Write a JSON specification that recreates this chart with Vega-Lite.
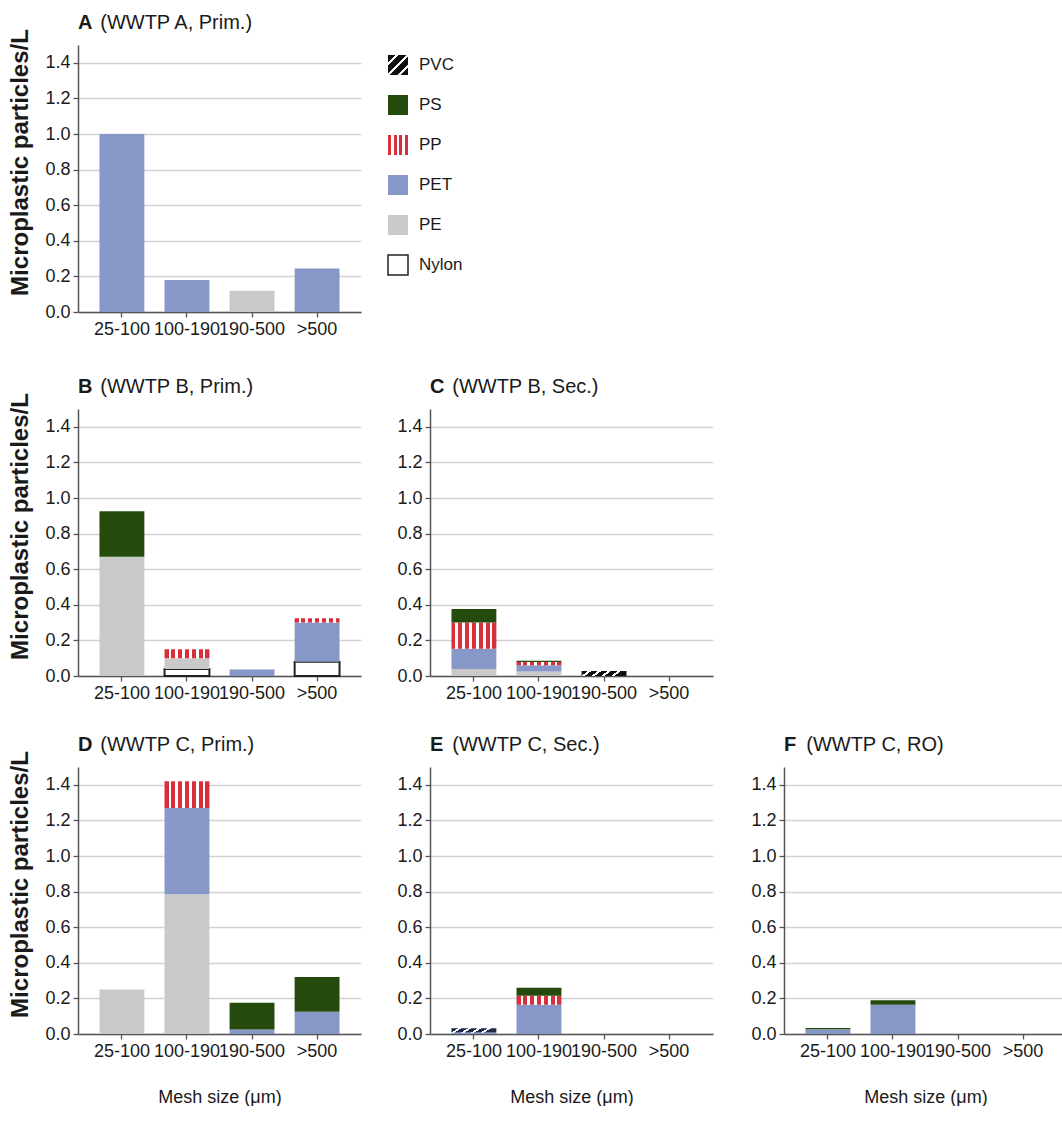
{
  "$schema": "https://vega.github.io/schema/vega-lite/v6.json",
  "padding": {"left": 8, "top": 12, "right": 0, "bottom": 0},
  "background": "white",
  "spacing": 32,
  "datasets": {
    "mp": [
      {"panel": "A", "mesh": "25-100", "polymer": "PET", "ord": 3, "value": 1.0},
      {"panel": "A", "mesh": "100-190", "polymer": "PET", "ord": 3, "value": 0.18},
      {"panel": "A", "mesh": "190-500", "polymer": "PE", "ord": 2, "value": 0.12},
      {"panel": "A", "mesh": ">500", "polymer": "PET", "ord": 3, "value": 0.245},
      {"panel": "B", "mesh": "25-100", "polymer": "PE", "ord": 2, "value": 0.67},
      {"panel": "B", "mesh": "25-100", "polymer": "PS", "ord": 5, "value": 0.255},
      {"panel": "B", "mesh": "100-190", "polymer": "Nylon", "ord": 1, "value": 0.04},
      {"panel": "B", "mesh": "100-190", "polymer": "PE", "ord": 2, "value": 0.06},
      {"panel": "B", "mesh": "100-190", "polymer": "PP", "ord": 4, "value": 0.05},
      {"panel": "B", "mesh": "190-500", "polymer": "PET", "ord": 3, "value": 0.037},
      {"panel": "B", "mesh": ">500", "polymer": "Nylon", "ord": 1, "value": 0.08},
      {"panel": "B", "mesh": ">500", "polymer": "PET", "ord": 3, "value": 0.22},
      {"panel": "B", "mesh": ">500", "polymer": "PP", "ord": 4, "value": 0.025},
      {"panel": "C", "mesh": "25-100", "polymer": "PE", "ord": 2, "value": 0.04},
      {"panel": "C", "mesh": "25-100", "polymer": "PET", "ord": 3, "value": 0.113},
      {"panel": "C", "mesh": "25-100", "polymer": "PP", "ord": 4, "value": 0.147},
      {"panel": "C", "mesh": "25-100", "polymer": "PS", "ord": 5, "value": 0.077},
      {"panel": "C", "mesh": "100-190", "polymer": "PE", "ord": 2, "value": 0.025},
      {"panel": "C", "mesh": "100-190", "polymer": "PET", "ord": 3, "value": 0.035},
      {"panel": "C", "mesh": "100-190", "polymer": "PP", "ord": 4, "value": 0.018},
      {"panel": "C", "mesh": "100-190", "polymer": "PS", "ord": 5, "value": 0.007},
      {"panel": "C", "mesh": "190-500", "polymer": "PVC", "ord": 6, "value": 0.028},
      {"panel": "D", "mesh": "25-100", "polymer": "PE", "ord": 2, "value": 0.25},
      {"panel": "D", "mesh": "100-190", "polymer": "PE", "ord": 2, "value": 0.785},
      {"panel": "D", "mesh": "100-190", "polymer": "PET", "ord": 3, "value": 0.485},
      {"panel": "D", "mesh": "100-190", "polymer": "PP", "ord": 4, "value": 0.15},
      {"panel": "D", "mesh": "190-500", "polymer": "PET", "ord": 3, "value": 0.025},
      {"panel": "D", "mesh": "190-500", "polymer": "PS", "ord": 5, "value": 0.15},
      {"panel": "D", "mesh": ">500", "polymer": "PET", "ord": 3, "value": 0.125},
      {"panel": "D", "mesh": ">500", "polymer": "PS", "ord": 5, "value": 0.195},
      {"panel": "E", "mesh": "25-100", "polymer": "PET", "ord": 3, "value": 0.008},
      {"panel": "E", "mesh": "25-100", "polymer": "PVC", "ord": 6, "value": 0.024},
      {"panel": "E", "mesh": "100-190", "polymer": "PET", "ord": 3, "value": 0.165},
      {"panel": "E", "mesh": "100-190", "polymer": "PP", "ord": 4, "value": 0.05},
      {"panel": "E", "mesh": "100-190", "polymer": "PS", "ord": 5, "value": 0.045},
      {"panel": "F", "mesh": "25-100", "polymer": "PET", "ord": 3, "value": 0.027},
      {"panel": "F", "mesh": "25-100", "polymer": "PS", "ord": 5, "value": 0.007},
      {"panel": "F", "mesh": "100-190", "polymer": "PET", "ord": 3, "value": 0.165},
      {"panel": "F", "mesh": "100-190", "polymer": "PS", "ord": 5, "value": 0.025}
    ],
    "leg": [
      {"polymer": "PVC"}, {"polymer": "PS"}, {"polymer": "PP"}, {"polymer": "PET"}, {"polymer": "PE"}, {"polymer": "Nylon"}
    ]
  },
  "config": {
    "view": {"stroke": null},
    "font": "Liberation Sans, Arial, sans-serif",
    "axis": {
      "labelFont": "Liberation Sans, Arial, sans-serif",
      "labelFontSize": 18, "labelColor": "#1a1a1a",
      "domainColor": "#555555", "domainWidth": 1.5,
      "tickColor": "#555555", "tickSize": 5, "tickWidth": 1.3,
      "gridColor": "#d2d2d2", "gridWidth": 1.4
    },
    "axisX": {
      "labelAngle": 0, "labelOverlap": false, "labelPadding": 3, "grid": false,
      "titleFont": "Liberation Sans, Arial, sans-serif",
      "titleFontSize": 18, "titleFontWeight": "normal", "titlePadding": 28, "titleColor": "#1a1a1a"
    },
    "axisY": {
      "grid": true, "labelPadding": 3,
      "titleFont": "Liberation Sans, Arial, sans-serif", "titleFontSize": 24, "titleFontWeight": "bold",
      "titleColor": "#1a1a1a", "titlePadding": 12, "titleY": 117
    },
    "title": {
      "anchor": "start", "frame": "group",
      "font": "Liberation Sans, Arial, sans-serif",
      "fontSize": 20, "fontWeight": "bold", "color": "#1a1a1a",
      "subtitleFont": "Liberation Sans, Arial, sans-serif",
      "subtitleFontSize": 20, "subtitleColor": "#1a1a1a", "subtitleFontWeight": "normal",
      "subtitlePadding": -20, "offset": 12
    }
  },
  "vconcat": [
    {
      "spacing": 38,
      "vconcat": [
        {
          "spacing": 24,
          "hconcat": [
            {
              "width": 283, "height": 267,
              "title": {"text": "A", "subtitle": "\u200b\u00a0\u00a0\u00a0\u00a0(WWTP A, Prim.)", "offset": -4},
              "data": {"name": "mp"},
              "transform": [{"filter": "datum.panel === 'A'"}],
              "mark": {"type": "bar"},
              "encoding": {
                "x": {"field": "mesh", "type": "nominal", "scale": {"domain": ["25-100", "100-190", "190-500", ">500"], "paddingInner": 0.31, "paddingOuter": 0.33}, "axis": {"title": null}},
                "y": {"field": "value", "type": "quantitative", "stack": "zero", "scale": {"domain": [0, 1.5], "nice": false}, "axis": {"values": [0, 0.2, 0.4, 0.6, 0.8, 1.0, 1.2, 1.4], "format": ".1f", "title": "Microplastic particles/L"}},
                "fill": {"field": "polymer", "type": "nominal", "legend": null,
                  "scale": {"domain": ["Nylon", "PE", "PET", "PP", "PS", "PVC"], "range": ["#ffffff", "#c9c9c9", "#8798c8", "#d7303b", "#244b0d", "#111111"]}},
                "order": {"field": "ord", "type": "quantitative"}
              }
            },
            {
              "width": 60, "height": 240,
              "data": {"name": "leg"},
              "encoding": {
                "x": {"datum": 0, "type": "quantitative", "scale": {"domain": [0, 1]}, "axis": null},
                "y": {"field": "polymer", "type": "nominal", "scale": {"type": "point", "padding": 0.5, "domain": ["PVC", "PS", "PP", "PET", "PE", "Nylon"]}, "axis": null}
              },
              "layer": [
                {
                  "mark": {"type": "point", "shape": "square", "size": 400, "filled": true, "opacity": 1, "strokeWidth": 1.5},
                  "encoding": {
                    "fill": {"field": "polymer", "type": "nominal", "legend": null,
                      "scale": {"domain": ["Nylon", "PE", "PET", "PP", "PS", "PVC"], "range": ["#ffffff", "#c9c9c9", "#8798c8", "#d7303b", "#244b0d", "#111111"]},
                      "condition": [
                        {"test": "datum.polymer === 'PP'", "value": {"gradient": "linear", "x1": 0, "y1": 0, "x2": 1, "y2": 0, "stops": [{"offset": 0, "color": "#d7303b"}, {"offset": 0.1667, "color": "#d7303b"}, {"offset": 0.1667, "color": "#ffffff"}, {"offset": 0.2778, "color": "#ffffff"}, {"offset": 0.2778, "color": "#d7303b"}, {"offset": 0.4444, "color": "#d7303b"}, {"offset": 0.4444, "color": "#ffffff"}, {"offset": 0.5556, "color": "#ffffff"}, {"offset": 0.5556, "color": "#d7303b"}, {"offset": 0.7222, "color": "#d7303b"}, {"offset": 0.7222, "color": "#ffffff"}, {"offset": 0.8333, "color": "#ffffff"}, {"offset": 0.8333, "color": "#d7303b"}, {"offset": 1, "color": "#d7303b"}]}},
                        {"test": "datum.polymer === 'PVC'", "value": {"gradient": "linear", "x1": 0, "y1": 0, "x2": 1, "y2": 1, "stops": [{"offset": 0, "color": "#111111"}, {"offset": 0.19, "color": "#111111"}, {"offset": 0.19, "color": "#ffffff"}, {"offset": 0.27, "color": "#ffffff"}, {"offset": 0.27, "color": "#111111"}, {"offset": 0.46, "color": "#111111"}, {"offset": 0.46, "color": "#ffffff"}, {"offset": 0.54, "color": "#ffffff"}, {"offset": 0.54, "color": "#111111"}, {"offset": 0.73, "color": "#111111"}, {"offset": 0.73, "color": "#ffffff"}, {"offset": 0.81, "color": "#ffffff"}, {"offset": 0.81, "color": "#111111"}, {"offset": 1, "color": "#111111"}]}}
                      ]},
                    "stroke": {"condition": {"test": "datum.polymer === 'Nylon'", "value": "#222222"}, "value": null}
                  }
                },
                {
                  "mark": {"type": "text", "align": "left", "baseline": "middle", "dx": 21, "fontSize": 17, "color": "#1a1a1a"},
                  "encoding": {"text": {"field": "polymer", "type": "nominal"}}
                }
              ]
            }
          ]
        },
        {
          "spacing": 35,
          "hconcat": [
            {
              "width": 283, "height": 267,
              "title": {"text": "B", "subtitle": "\u200b\u00a0\u00a0\u00a0\u00a0(WWTP B, Prim.)", "offset": -4},
              "data": {"name": "mp"},
              "transform": [{"filter": "datum.panel === 'B'"}],
              "mark": {"type": "bar"},
              "encoding": {
                "x": {"field": "mesh", "type": "nominal", "scale": {"domain": ["25-100", "100-190", "190-500", ">500"], "paddingInner": 0.31, "paddingOuter": 0.33}, "axis": {"title": null}},
                "y": {"field": "value", "type": "quantitative", "stack": "zero", "scale": {"domain": [0, 1.5], "nice": false}, "axis": {"values": [0, 0.2, 0.4, 0.6, 0.8, 1.0, 1.2, 1.4], "format": ".1f", "title": "Microplastic particles/L"}},
                "fill": {"field": "polymer", "type": "nominal", "legend": null,
                  "scale": {"domain": ["Nylon", "PE", "PET", "PP", "PS", "PVC"], "range": ["#ffffff", "#c9c9c9", "#8798c8", "#d7303b", "#244b0d", "#111111"]},
                  "condition": [
                    {"test": "datum.polymer === 'PP'", "value": {"gradient": "linear", "x1": 0, "y1": 0, "x2": 1, "y2": 0, "stops": [{"offset": 0, "color": "#d7303b"}, {"offset": 0.0886, "color": "#d7303b"}, {"offset": 0.0886, "color": "#ffffff"}, {"offset": 0.1519, "color": "#ffffff"}, {"offset": 0.1519, "color": "#d7303b"}, {"offset": 0.2405, "color": "#d7303b"}, {"offset": 0.2405, "color": "#ffffff"}, {"offset": 0.3038, "color": "#ffffff"}, {"offset": 0.3038, "color": "#d7303b"}, {"offset": 0.3924, "color": "#d7303b"}, {"offset": 0.3924, "color": "#ffffff"}, {"offset": 0.4557, "color": "#ffffff"}, {"offset": 0.4557, "color": "#d7303b"}, {"offset": 0.5443, "color": "#d7303b"}, {"offset": 0.5443, "color": "#ffffff"}, {"offset": 0.6076, "color": "#ffffff"}, {"offset": 0.6076, "color": "#d7303b"}, {"offset": 0.6962, "color": "#d7303b"}, {"offset": 0.6962, "color": "#ffffff"}, {"offset": 0.7595, "color": "#ffffff"}, {"offset": 0.7595, "color": "#d7303b"}, {"offset": 0.8481, "color": "#d7303b"}, {"offset": 0.8481, "color": "#ffffff"}, {"offset": 0.9114, "color": "#ffffff"}, {"offset": 0.9114, "color": "#d7303b"}, {"offset": 1, "color": "#d7303b"}]}}
                  ]},
                "stroke": {"condition": {"test": "datum.polymer === 'Nylon'", "value": "#222222"}, "value": null},
                "strokeWidth": {"value": 2},
                "order": {"field": "ord", "type": "quantitative"}
              }
            },
            {
              "width": 283, "height": 267,
              "title": {"text": "C", "subtitle": "\u200b\u00a0\u00a0\u00a0\u00a0(WWTP B, Sec.)"},
              "data": {"name": "mp"},
              "transform": [{"filter": "datum.panel === 'C'"}],
              "mark": {"type": "bar"},
              "encoding": {
                "x": {"field": "mesh", "type": "nominal", "scale": {"domain": ["25-100", "100-190", "190-500", ">500"], "paddingInner": 0.31, "paddingOuter": 0.33}, "axis": {"title": null}},
                "y": {"field": "value", "type": "quantitative", "stack": "zero", "scale": {"domain": [0, 1.5], "nice": false}, "axis": {"values": [0, 0.2, 0.4, 0.6, 0.8, 1.0, 1.2, 1.4], "format": ".1f", "title": null}},
                "fill": {"field": "polymer", "type": "nominal", "legend": null,
                  "scale": {"domain": ["Nylon", "PE", "PET", "PP", "PS", "PVC"], "range": ["#ffffff", "#c9c9c9", "#8798c8", "#d7303b", "#244b0d", "#111111"]},
                  "condition": [
                    {"test": "datum.polymer === 'PP'", "value": {"gradient": "linear", "x1": 0, "y1": 0, "x2": 1, "y2": 0, "stops": [{"offset": 0, "color": "#d7303b"}, {"offset": 0.0886, "color": "#d7303b"}, {"offset": 0.0886, "color": "#ffffff"}, {"offset": 0.1519, "color": "#ffffff"}, {"offset": 0.1519, "color": "#d7303b"}, {"offset": 0.2405, "color": "#d7303b"}, {"offset": 0.2405, "color": "#ffffff"}, {"offset": 0.3038, "color": "#ffffff"}, {"offset": 0.3038, "color": "#d7303b"}, {"offset": 0.3924, "color": "#d7303b"}, {"offset": 0.3924, "color": "#ffffff"}, {"offset": 0.4557, "color": "#ffffff"}, {"offset": 0.4557, "color": "#d7303b"}, {"offset": 0.5443, "color": "#d7303b"}, {"offset": 0.5443, "color": "#ffffff"}, {"offset": 0.6076, "color": "#ffffff"}, {"offset": 0.6076, "color": "#d7303b"}, {"offset": 0.6962, "color": "#d7303b"}, {"offset": 0.6962, "color": "#ffffff"}, {"offset": 0.7595, "color": "#ffffff"}, {"offset": 0.7595, "color": "#d7303b"}, {"offset": 0.8481, "color": "#d7303b"}, {"offset": 0.8481, "color": "#ffffff"}, {"offset": 0.9114, "color": "#ffffff"}, {"offset": 0.9114, "color": "#d7303b"}, {"offset": 1, "color": "#d7303b"}]}},
                    {"test": "datum.polymer === 'PVC'", "value": {"gradient": "linear", "x1": 0, "y1": 0, "x2": 1, "y2": 0.15, "stops": [{"offset": 0, "color": "#111111"}, {"offset": 0.1429, "color": "#111111"}, {"offset": 0.1429, "color": "#ffffff"}, {"offset": 0.2143, "color": "#ffffff"}, {"offset": 0.2143, "color": "#111111"}, {"offset": 0.3571, "color": "#111111"}, {"offset": 0.3571, "color": "#ffffff"}, {"offset": 0.4286, "color": "#ffffff"}, {"offset": 0.4286, "color": "#111111"}, {"offset": 0.5714, "color": "#111111"}, {"offset": 0.5714, "color": "#ffffff"}, {"offset": 0.6429, "color": "#ffffff"}, {"offset": 0.6429, "color": "#111111"}, {"offset": 0.7857, "color": "#111111"}, {"offset": 0.7857, "color": "#ffffff"}, {"offset": 0.8571, "color": "#ffffff"}, {"offset": 0.8571, "color": "#111111"}, {"offset": 1, "color": "#111111"}]}}
                  ]},
                "order": {"field": "ord", "type": "quantitative"}
              }
            }
          ]
        }
      ]
    },
    {
      "spacing": 37,
      "hconcat": [
        {
          "spacing": 35,
          "hconcat": [
            {
              "width": 283, "height": 267,
              "title": {"text": "D", "subtitle": "\u200b\u00a0\u00a0\u00a0\u00a0(WWTP C, Prim.)", "offset": -4},
              "data": {"name": "mp"},
              "transform": [{"filter": "datum.panel === 'D'"}],
              "mark": {"type": "bar"},
              "encoding": {
                "x": {"field": "mesh", "type": "nominal", "scale": {"domain": ["25-100", "100-190", "190-500", ">500"], "paddingInner": 0.31, "paddingOuter": 0.33}, "axis": {"title": "Mesh size (μm)"}},
                "y": {"field": "value", "type": "quantitative", "stack": "zero", "scale": {"domain": [0, 1.5], "nice": false}, "axis": {"values": [0, 0.2, 0.4, 0.6, 0.8, 1.0, 1.2, 1.4], "format": ".1f", "title": "Microplastic particles/L"}},
                "fill": {"field": "polymer", "type": "nominal", "legend": null,
                  "scale": {"domain": ["Nylon", "PE", "PET", "PP", "PS", "PVC"], "range": ["#ffffff", "#c9c9c9", "#8798c8", "#d7303b", "#244b0d", "#111111"]},
                  "condition": [
                    {"test": "datum.polymer === 'PP'", "value": {"gradient": "linear", "x1": 0, "y1": 0, "x2": 1, "y2": 0, "stops": [{"offset": 0, "color": "#d7303b"}, {"offset": 0.0886, "color": "#d7303b"}, {"offset": 0.0886, "color": "#ffffff"}, {"offset": 0.1519, "color": "#ffffff"}, {"offset": 0.1519, "color": "#d7303b"}, {"offset": 0.2405, "color": "#d7303b"}, {"offset": 0.2405, "color": "#ffffff"}, {"offset": 0.3038, "color": "#ffffff"}, {"offset": 0.3038, "color": "#d7303b"}, {"offset": 0.3924, "color": "#d7303b"}, {"offset": 0.3924, "color": "#ffffff"}, {"offset": 0.4557, "color": "#ffffff"}, {"offset": 0.4557, "color": "#d7303b"}, {"offset": 0.5443, "color": "#d7303b"}, {"offset": 0.5443, "color": "#ffffff"}, {"offset": 0.6076, "color": "#ffffff"}, {"offset": 0.6076, "color": "#d7303b"}, {"offset": 0.6962, "color": "#d7303b"}, {"offset": 0.6962, "color": "#ffffff"}, {"offset": 0.7595, "color": "#ffffff"}, {"offset": 0.7595, "color": "#d7303b"}, {"offset": 0.8481, "color": "#d7303b"}, {"offset": 0.8481, "color": "#ffffff"}, {"offset": 0.9114, "color": "#ffffff"}, {"offset": 0.9114, "color": "#d7303b"}, {"offset": 1, "color": "#d7303b"}]}}
                  ]},
                "order": {"field": "ord", "type": "quantitative"}
              }
            },
            {
              "width": 283, "height": 267,
              "title": {"text": "E", "subtitle": "\u200b\u00a0\u00a0\u00a0\u00a0(WWTP C, Sec.)"},
              "data": {"name": "mp"},
              "transform": [{"filter": "datum.panel === 'E'"}],
              "mark": {"type": "bar"},
              "encoding": {
                "x": {"field": "mesh", "type": "nominal", "scale": {"domain": ["25-100", "100-190", "190-500", ">500"], "paddingInner": 0.31, "paddingOuter": 0.33}, "axis": {"title": "Mesh size (μm)"}},
                "y": {"field": "value", "type": "quantitative", "stack": "zero", "scale": {"domain": [0, 1.5], "nice": false}, "axis": {"values": [0, 0.2, 0.4, 0.6, 0.8, 1.0, 1.2, 1.4], "format": ".1f", "title": null}},
                "fill": {"field": "polymer", "type": "nominal", "legend": null,
                  "scale": {"domain": ["Nylon", "PE", "PET", "PP", "PS", "PVC"], "range": ["#ffffff", "#c9c9c9", "#8798c8", "#d7303b", "#244b0d", "#111111"]},
                  "condition": [
                    {"test": "datum.polymer === 'PP'", "value": {"gradient": "linear", "x1": 0, "y1": 0, "x2": 1, "y2": 0, "stops": [{"offset": 0, "color": "#d7303b"}, {"offset": 0.0886, "color": "#d7303b"}, {"offset": 0.0886, "color": "#ffffff"}, {"offset": 0.1519, "color": "#ffffff"}, {"offset": 0.1519, "color": "#d7303b"}, {"offset": 0.2405, "color": "#d7303b"}, {"offset": 0.2405, "color": "#ffffff"}, {"offset": 0.3038, "color": "#ffffff"}, {"offset": 0.3038, "color": "#d7303b"}, {"offset": 0.3924, "color": "#d7303b"}, {"offset": 0.3924, "color": "#ffffff"}, {"offset": 0.4557, "color": "#ffffff"}, {"offset": 0.4557, "color": "#d7303b"}, {"offset": 0.5443, "color": "#d7303b"}, {"offset": 0.5443, "color": "#ffffff"}, {"offset": 0.6076, "color": "#ffffff"}, {"offset": 0.6076, "color": "#d7303b"}, {"offset": 0.6962, "color": "#d7303b"}, {"offset": 0.6962, "color": "#ffffff"}, {"offset": 0.7595, "color": "#ffffff"}, {"offset": 0.7595, "color": "#d7303b"}, {"offset": 0.8481, "color": "#d7303b"}, {"offset": 0.8481, "color": "#ffffff"}, {"offset": 0.9114, "color": "#ffffff"}, {"offset": 0.9114, "color": "#d7303b"}, {"offset": 1, "color": "#d7303b"}]}},
                    {"test": "datum.polymer === 'PVC'", "value": {"gradient": "linear", "x1": 0, "y1": 0, "x2": 1, "y2": 0.15, "stops": [{"offset": 0, "color": "#1f2a4a"}, {"offset": 0.1429, "color": "#1f2a4a"}, {"offset": 0.1429, "color": "#ffffff"}, {"offset": 0.2143, "color": "#ffffff"}, {"offset": 0.2143, "color": "#1f2a4a"}, {"offset": 0.3571, "color": "#1f2a4a"}, {"offset": 0.3571, "color": "#ffffff"}, {"offset": 0.4286, "color": "#ffffff"}, {"offset": 0.4286, "color": "#1f2a4a"}, {"offset": 0.5714, "color": "#1f2a4a"}, {"offset": 0.5714, "color": "#ffffff"}, {"offset": 0.6429, "color": "#ffffff"}, {"offset": 0.6429, "color": "#1f2a4a"}, {"offset": 0.7857, "color": "#1f2a4a"}, {"offset": 0.7857, "color": "#ffffff"}, {"offset": 0.8571, "color": "#ffffff"}, {"offset": 0.8571, "color": "#1f2a4a"}, {"offset": 1, "color": "#1f2a4a"}]}}
                  ]},
                "order": {"field": "ord", "type": "quantitative"}
              }
            }
          ]
        },
        {
          "width": 283, "height": 267,
          "title": {"text": "F", "subtitle": "\u200b\u00a0\u00a0\u00a0\u00a0(WWTP C, RO)"},
          "data": {"name": "mp"},
          "transform": [{"filter": "datum.panel === 'F'"}],
          "mark": {"type": "bar"},
          "encoding": {
            "x": {"field": "mesh", "type": "nominal", "scale": {"domain": ["25-100", "100-190", "190-500", ">500"], "paddingInner": 0.31, "paddingOuter": 0.33}, "axis": {"title": "Mesh size (μm)"}},
            "y": {"field": "value", "type": "quantitative", "stack": "zero", "scale": {"domain": [0, 1.5], "nice": false}, "axis": {"values": [0, 0.2, 0.4, 0.6, 0.8, 1.0, 1.2, 1.4], "format": ".1f", "title": null}},
            "fill": {"field": "polymer", "type": "nominal", "legend": null,
              "scale": {"domain": ["Nylon", "PE", "PET", "PP", "PS", "PVC"], "range": ["#ffffff", "#c9c9c9", "#8798c8", "#d7303b", "#244b0d", "#111111"]}},
            "order": {"field": "ord", "type": "quantitative"}
          }
        }
      ]
    }
  ]
}
